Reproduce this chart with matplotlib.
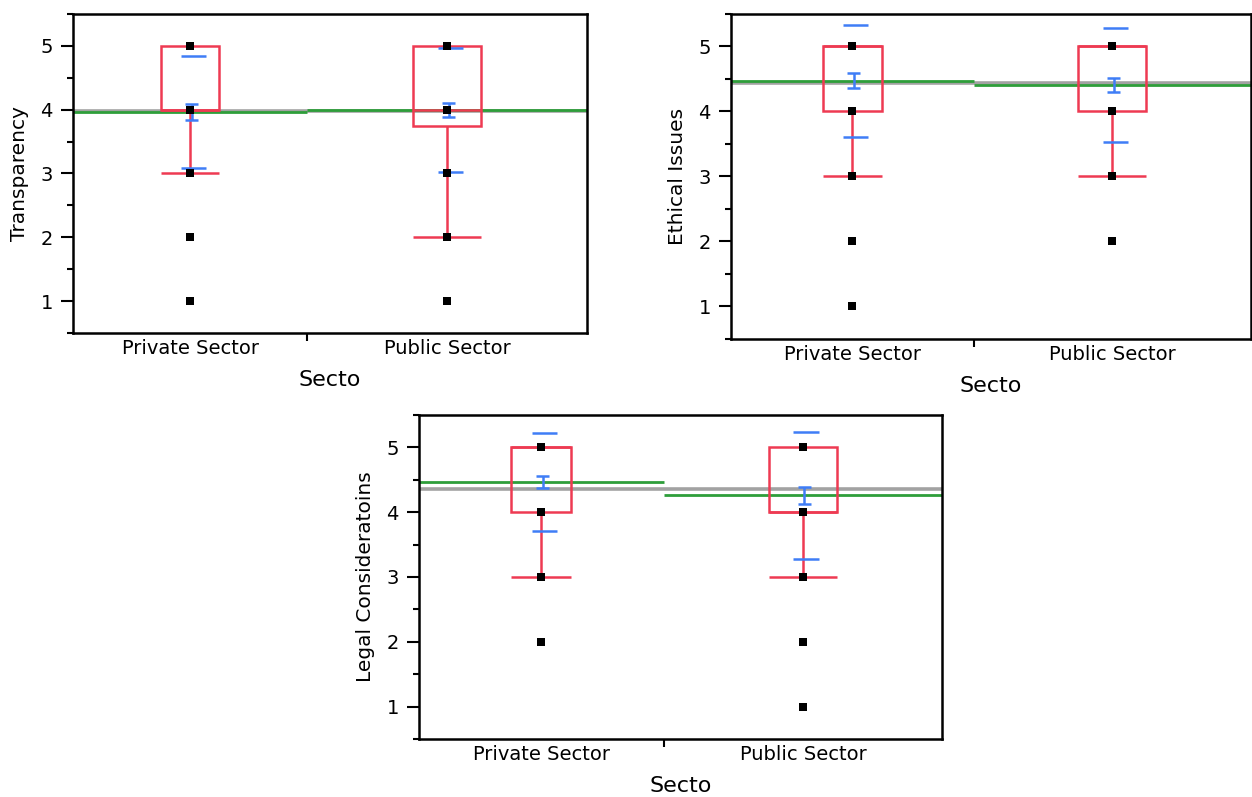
import numpy as np
import matplotlib
matplotlib.use("Agg")
import matplotlib.pyplot as plt
from matplotlib.patches import Rectangle

plt.rcParams['font.family'] = ['DejaVu Sans']

# ---------------- data ----------------
group_labels = ["Private Sector", "Public Sector"]
x_title = "Secto"
y_titles = ["Transparency", "Ethical Issues", "Legal Consideratoins"]

# share of the x axis taken by the Private Sector group (JMP width ~ group size)
private_share = [0.456, 0.467, 0.468]

# group means, standard deviations, standard errors
means = [[3.96, 4.00], [4.475, 4.41], [4.465, 4.26]]
sds = [[0.88, 0.97], [0.86, 0.876], [0.75, 0.985]]
ses = [[0.122, 0.112], [0.1125, 0.1075], [0.0975, 0.126]]
grand_means = [3.98, 4.445, 4.36]

# box plot quantiles
q1 = [[4, 3.75], [4, 4], [4, 4]]
medians = [[4, 4], [5, 5], [5, 4]]
q3 = [[5, 5], [5, 5], [5, 5]]
whisker_low = [[3, 2], [3, 3], [3, 3]]

# distinct observed response values per group
points = [
    [[1, 2, 3, 4, 5], [1, 2, 3, 4, 5]],
    [[1, 2, 3, 4, 5], [2, 3, 4, 5]],
    [[2, 3, 4, 5], [1, 2, 3, 4, 5]],
]

# ---------------- style ----------------
RED = "#EE3A52"
BLUE = "#3F7DF6"
GREEN = "#2E9E3A"
GREY = "#A2A2A2"

W, H = 1252, 797
rects_px = [(73, 14, 587, 333), (731, 14, 1251, 339), (419, 415, 942, 739)]

fig = plt.figure(figsize=(W / 100, H / 100), dpi=100)

for k in range(3):
    l, t, r, b = rects_px[k]
    ax = fig.add_axes([l / W, 1 - b / H, (r - l) / W, (b - t) / H])
    ax.set_xlim(0, 1)
    ax.set_ylim(0.5, 5.5)
    p = private_share[k]
    lefts = [0, p]
    rights = [p, 1]
    centers = [p / 2, (1 + p) / 2]

    ax.axhline(grand_means[k], color=GREY, lw=2.6, zorder=1)
    for g in range(2):
        c = centers[g]
        gw = rights[g] - lefts[g]
        bw = 0.245 * gw
        m, sd, se = means[k][g], sds[k][g], ses[k][g]
        ax.hlines(m, lefts[g], rights[g], color=GREEN, lw=2.0, zorder=2)
        ax.add_patch(Rectangle((c - bw / 2, q1[k][g]), bw, q3[k][g] - q1[k][g],
                               fill=False, ec=RED, lw=1.8, zorder=3))
        ax.hlines(medians[k][g], c - bw / 2, c + bw / 2, color=RED, lw=1.8, zorder=3)
        ax.vlines(c, whisker_low[k][g], q1[k][g], color=RED, lw=1.8, zorder=3)
        ax.hlines(whisker_low[k][g], c - bw / 2, c + bw / 2, color=RED, lw=1.8, zorder=3)
        # std dev lines
        ax.hlines([m + sd, m - sd], c - 0.018, c + 0.030, color=BLUE, lw=1.8, zorder=4)
        # mean error bars
        ax.vlines(c + 0.003, m - se, m + se, color=BLUE, lw=1.8, zorder=4)
        ax.hlines([m - se, m + se], c - 0.0096, c + 0.0154, color=BLUE, lw=1.8, zorder=4)
        pts = points[k][g]
        ax.plot([c] * len(pts), pts, 's', color='black', ms=5.5, zorder=6, mew=0)

    ax.set_yticks([1, 2, 3, 4, 5])
    ax.set_yticks(np.arange(0.5, 5.51, 0.5), minor=True)
    ax.tick_params(axis='y', which='major', length=8.5, width=1.5, direction='out',
                   labelsize=14, pad=6)
    ax.tick_params(axis='y', which='minor', length=4.5, width=1.5, direction='out')
    ax.set_xticks([p])
    ax.set_xticklabels([''])
    ax.tick_params(axis='x', which='major', length=6, width=1.5, direction='out')
    ax.set_xticks(centers, minor=True)
    ax.set_xticklabels(group_labels, minor=True)
    ax.tick_params(axis='x', which='minor', length=0, labelsize=14, pad=4)
    for s in ax.spines.values():
        s.set_linewidth(1.8)
        s.set_color('black')
    ax.set_xlabel(x_title, fontsize=16, labelpad=9)
    ax.set_ylabel(y_titles[k], fontsize=14.5, labelpad=8)

fig.savefig("out.png", dpi=100)
